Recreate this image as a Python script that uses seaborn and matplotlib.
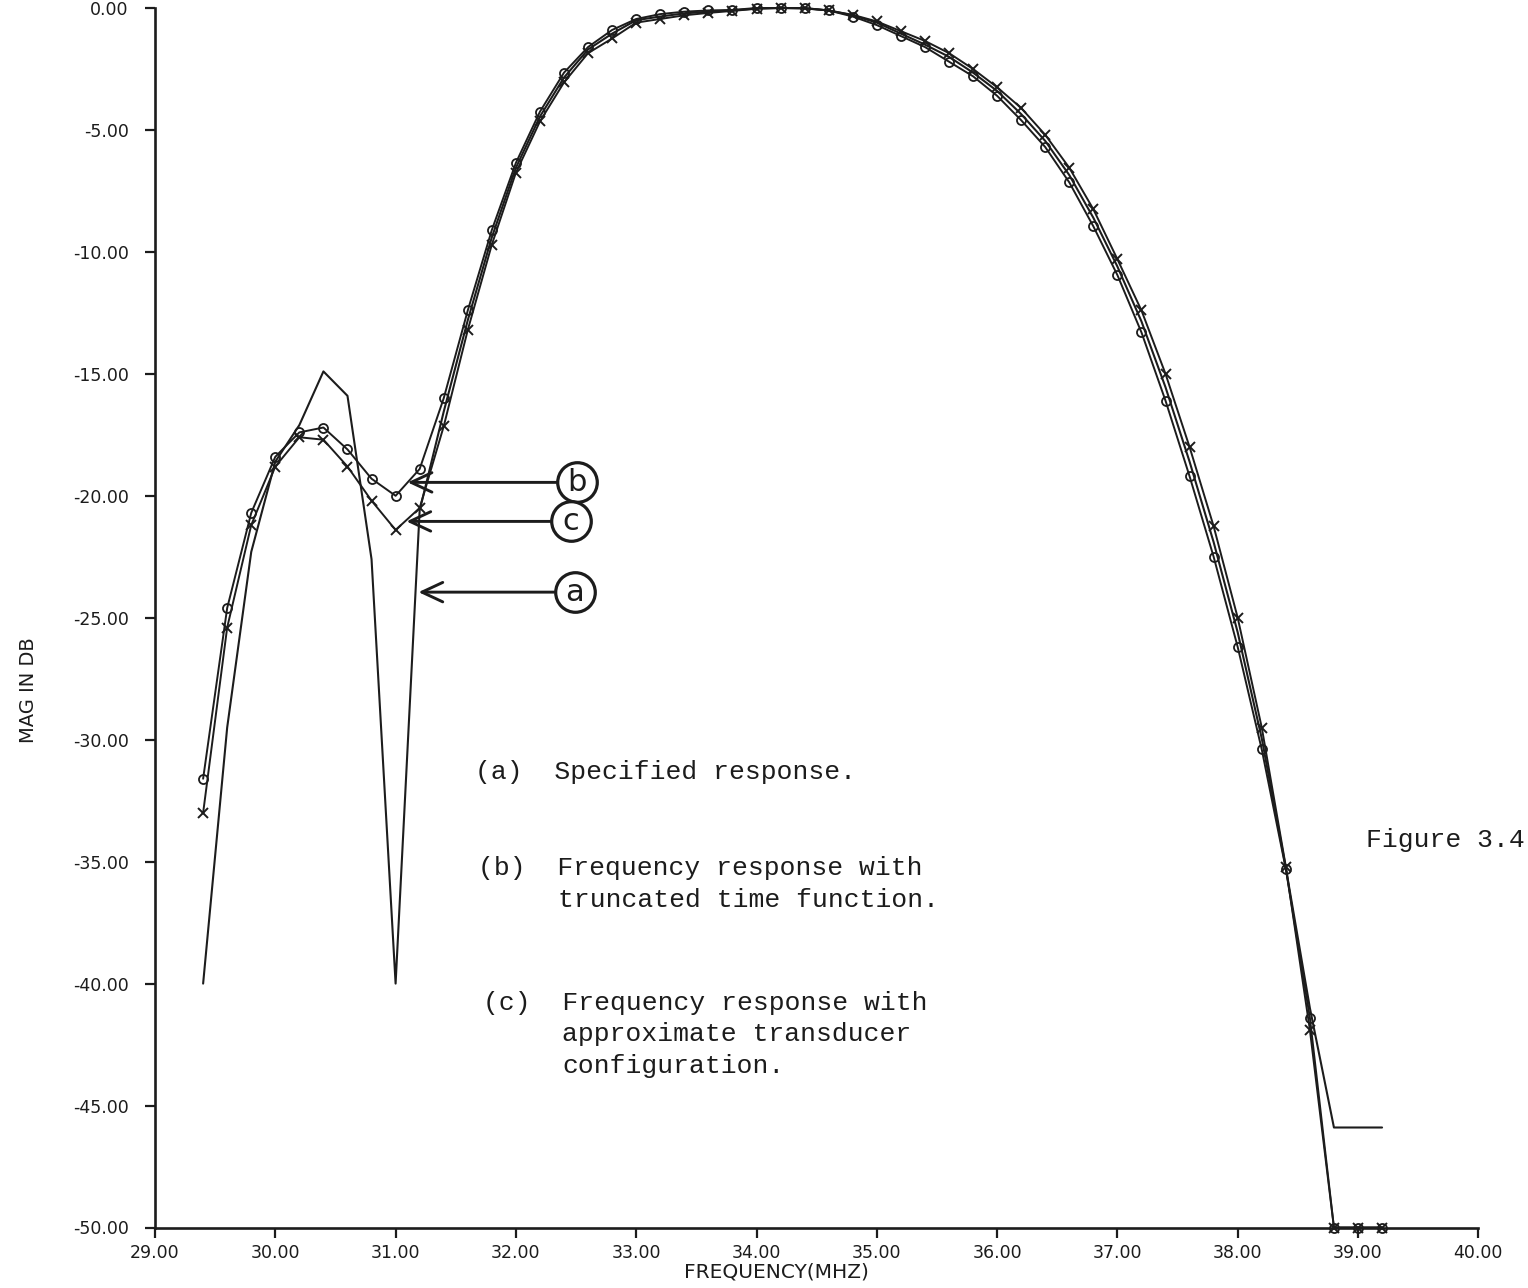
import matplotlib
matplotlib.use("Agg")
import matplotlib.pyplot as plt
import seaborn as sns
import pandas as pd

# ---------------- data ----------------
freq_mhz = [29.4, 29.6, 29.8, 30.0, 30.2, 30.4, 30.6, 30.8, 31.0, 31.2,
            31.4, 31.6, 31.8, 32.0, 32.2, 32.4, 32.6, 32.8, 33.0, 33.2,
            33.4, 33.6, 33.8, 34.0, 34.2, 34.4, 34.6, 34.8, 35.0, 35.2,
            35.4, 35.6, 35.8, 36.0, 36.2, 36.4, 36.6, 36.8, 37.0, 37.2,
            37.4, 37.6, 37.8, 38.0, 38.2, 38.4, 38.6, 38.8, 39.0, 39.2]

# (a) specified response (plain line)
mag_specified = [-40.0, -29.5, -22.3, -18.6, -17.1, -14.9, -15.9, -22.6, -40.0, -20.6,
                 -16.55, -12.8, -9.4, -6.55, -4.45, -2.85, -1.7, -1.05, -0.5, -0.35,
                 -0.22, -0.15, -0.1, -0.02, 0.0, -0.01, -0.1, -0.3, -0.6, -1.05,
                 -1.5, -2.0, -2.65, -3.4, -4.35, -5.45, -6.85, -8.6, -10.6, -12.85,
                 -15.55, -18.6, -21.9, -25.6, -29.95, -35.25, -41.0, -45.9, -45.9, -45.9]

# (b) truncated time function (circles)
mag_truncated = [-31.6, -24.6, -20.7, -18.4, -17.4, -17.2, -18.1, -19.3, -20.0, -18.9,
                 -16.0, -12.4, -9.1, -6.35, -4.25, -2.65, -1.6, -0.9, -0.45, -0.25,
                 -0.15, -0.1, -0.08, 0.0, 0.0, 0.0, -0.1, -0.35, -0.7, -1.15,
                 -1.6, -2.2, -2.8, -3.6, -4.6, -5.7, -7.15, -8.95, -10.95, -13.3,
                 -16.1, -19.2, -22.5, -26.2, -30.4, -35.3, -41.4, -50.0, -50.0, -50.0]

# (c) approximate transducer configuration (crosses)
mag_transducer = [-33.0, -25.4, -21.2, -18.8, -17.6, -17.7, -18.8, -20.2, -21.4, -20.5,
                  -17.15, -13.2, -9.7, -6.75, -4.65, -3.05, -1.85, -1.25, -0.6, -0.45,
                  -0.3, -0.2, -0.12, -0.03, 0.0, -0.02, -0.1, -0.28, -0.55, -0.95,
                  -1.35, -1.85, -2.5, -3.25, -4.1, -5.2, -6.55, -8.25, -10.3, -12.4,
                  -15.0, -18.0, -21.25, -25.0, -29.5, -35.2, -41.9, -50.0, -50.0, -50.0]

x_ticks = [29, 30, 31, 32, 33, 34, 35, 36, 37, 38, 39, 40]
x_tick_labels = ["29.00", "30.00", "31.00", "32.00", "33.00", "34.00",
                 "35.00", "36.00", "37.00", "38.00", "39.00", "40.00"]
y_ticks = [0, -5, -10, -15, -20, -25, -30, -35, -40, -45, -50]
y_tick_labels = ["0.00", "-5.00", "-10.00", "-15.00", "-20.00", "-25.00",
                 "-30.00", "-35.00", "-40.00", "-45.00", "-50.00"]

notes = ["(a)  Specified response.",
         "(b)  Frequency response with", "truncated time function.",
         "(c)  Frequency response with", "approximate transducer", "configuration."]
fig_caption = "Figure 3.4"

# ---------------- styling ----------------
sns.set_theme(style="ticks")
plt.rcParams['font.family'] = ['DejaVu Sans']
ink = "#1c1c1c"

W, H = 1528, 1288
fig = plt.figure(figsize=(W / 100, H / 100), dpi=100)
fig.patch.set_facecolor("white")
L, R = 155.0, 155.0 + 1323.3
T, B = 8.0, 8.0 + 1219.5
ax = fig.add_axes([L / W, 1 - B / H, (R - L) / W, (B - T) / H])
ax.set_facecolor("white")

df = pd.DataFrame({"freq": freq_mhz, "a": mag_specified,
                   "b": mag_truncated, "c": mag_transducer})

sns.lineplot(data=df, x="freq", y="a", ax=ax, color=ink, linewidth=1.5,
             clip_on=False, zorder=3)
sns.lineplot(data=df, x="freq", y="b", ax=ax, color=ink, linewidth=1.4,
             marker="o", markersize=6.5, markerfacecolor="none",
             markeredgecolor=ink, markeredgewidth=1.3, clip_on=False, zorder=4)
sns.lineplot(data=df, x="freq", y="c", ax=ax, color=ink, linewidth=1.4,
             marker="x", markersize=7.5, markeredgecolor=ink,
             markeredgewidth=1.4, clip_on=False, zorder=4)

ax.set_xlim(29, 40)
ax.set_ylim(-50, 0)
ax.set_xticks(x_ticks)
ax.set_xticklabels(x_tick_labels)
ax.set_yticks(y_ticks)
ax.set_yticklabels(y_tick_labels)
ax.tick_params(axis="both", direction="out", length=7, width=1.6,
               labelsize=12.5, colors=ink)
ax.tick_params(axis="y", pad=12)
ax.tick_params(axis="x", pad=5)
sns.despine(ax=ax)
for side in ("left", "bottom"):
    ax.spines[side].set_linewidth(1.9)
    ax.spines[side].set_color(ink)

ax.set_xlabel("FREQUENCY(MHZ)", fontsize=14.5, color=ink)
ax.xaxis.set_label_coords(0.4693, -0.0285)
ax.set_ylabel("MAG IN DB", fontsize=14, color=ink)
ax.yaxis.set_label_coords(-0.0885, 0.4408)

# circled letters with arrows
callouts = [("b", (32.51, -19.45), (31.10, -19.45)),
            ("c", (32.46, -21.05), (31.09, -21.05)),
            ("a", (32.49, -23.95), (31.19, -23.95))]
for letter, center, tip in callouts:
    ax.plot([center[0]], [center[1]], marker="o", markersize=28.5,
            markerfacecolor="white", markeredgecolor=ink, markeredgewidth=2.3,
            zorder=6, clip_on=False)
    ax.text(center[0], center[1], letter, ha="center", va="center",
            fontsize=22, color=ink, zorder=7)
    ax.annotate("", xy=tip, xytext=center,
                arrowprops=dict(arrowstyle="->,head_length=0.75,head_width=0.35",
                                lw=2.1, color=ink, shrinkA=15, shrinkB=0,
                                mutation_scale=20), zorder=5)

# typewritten notes (figure pixel positions)
note_pos = [(475, 772), (478, 868), (558, 900), (483, 1003), (562, 1034), (562, 1066)]
for s, (px, py) in zip(notes, note_pos):
    fig.text(px / W, 1 - py / H, s, ha="left", va="center",
             family="Liberation Mono", fontsize=19, color=ink)
fig.text(1366 / W, 1 - 840 / H, fig_caption, ha="left", va="center",
         family="Liberation Mono", fontsize=19, color=ink)

fig.savefig("out.png", dpi=100, facecolor="white")
